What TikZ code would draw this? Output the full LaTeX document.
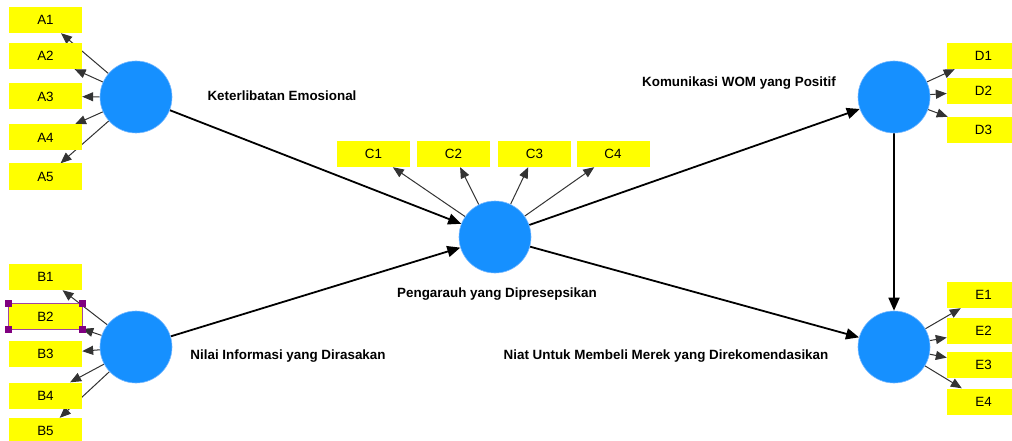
\documentclass[tikz,border=0pt]{standalone}
\usepackage{fontspec}
\setmainfont{Liberation Sans}
\usetikzlibrary{arrows.meta,backgrounds}
\definecolor{lvblue}{RGB}{22,144,255}
\definecolor{lvrim}{RGB}{120,185,255}
\definecolor{indyellow}{RGB}{255,255,0}
\definecolor{selpurple}{RGB}{160,70,160}
\definecolor{handlepurple}{RGB}{128,0,128}
\begin{document}
\begin{tikzpicture}[x=1pt,y=-1pt,
  lv/.style={circle,fill=lvblue,draw=lvrim,line width=0.6pt,minimum size=72pt,inner sep=0pt},
  ind/.style={fill=indyellow,minimum width=73pt,minimum height=26pt,inner sep=0pt,font=\fontsize{13.4}{15}\selectfont},
  lbl/.style={font=\fontsize{13.4}{15}\selectfont\bfseries,inner sep=0pt},
  struct/.style={draw=black,line width=1.8pt,-{Triangle[length=13pt,width=11pt]}},
  meas/.style={draw=black!80,line width=1pt,-{Triangle[length=11pt,width=9pt]}},
  handle/.style={fill=handlepurple,minimum size=7pt,inner sep=0pt}
]
\useasboundingbox (0,0) rectangle (1012,441);
% latent variables
\node[lv] (LA) at (136,97) {};
\node[lv] (LB) at (136,347) {};
\node[lv] (LC) at (495,237) {};
\node[lv] (LD) at (894,97) {};
\node[lv] (LE) at (894,347) {};
% indicators
\node[ind] (A1) at (45.5,20) {A1};
\node[ind] (A2) at (45.5,56) {A2};
\node[ind] (A3) at (45.5,96.5) {A3};
\node[ind] (A4) at (45.5,137.5) {A4};
\node[ind] (A5) at (45.5,176.5) {A5};
\node[ind] (B1) at (45.5,277) {B1};
\node[ind] (B2) at (45.5,316.5) {B2};
\node[ind] (B3) at (45.5,354) {B3};
\node[ind] (B4) at (45.5,395.5) {B4};
\node[ind] (B5) at (45.5,431) {B5};
\node[ind] (C1) at (373.5,154) {C1};
\node[ind] (C2) at (453.5,154) {C2};
\node[ind] (C3) at (534.5,154) {C3};
\node[ind] (C4) at (613,154) {C4};
\node[ind] (D1) at (983.5,56) {D1};
\node[ind] (D2) at (983.5,91) {D2};
\node[ind] (D3) at (983.5,130) {D3};
\node[ind] (E1) at (983.5,295) {E1};
\node[ind] (E2) at (983.5,331) {E2};
\node[ind] (E3) at (983.5,365) {E3};
\node[ind] (E4) at (983.5,401.5) {E4};
% selection marks on B2
\draw[selpurple,line width=1pt] (B2.south west) rectangle (B2.north east);
\node[handle] (h1) at (B2.north west) {};
\node[handle] (h2) at (B2.north east) {};
\node[handle] (h3) at (B2.south west) {};
\node[handle] (h4) at (B2.south east) {};
% labels
\node[lbl] (tA) at (282,96) {Keterlibatan Emosional};
\node[lbl] (tB) at (288,356) {Nilai Informasi yang Dirasakan};
\node[lbl] (tC) at (497,294) {Pengarauh yang Dipresepsikan};
\node[lbl] (tD) at (739,83) {Komunikasi WOM yang Positif};
\node[lbl] (tE) at (666,356) {Niat Untuk Membeli Merek yang Direkomendasikan};
% connectors
\begin{pgfonlayer}{background}
\foreach \i in {A1,A2,A3,A4,A5} \draw[meas] (LA) -- (\i);
\foreach \i in {B1,B2,B3,B4,B5} \draw[meas] (LB) -- (\i);
\foreach \i in {C1,C2,C3,C4} \draw[meas] (LC) -- (\i);
\foreach \i in {D1,D2,D3} \draw[meas] (LD) -- (\i);
\foreach \i in {E1,E2,E3,E4} \draw[meas] (LE) -- (\i);
\draw[struct] (LA) -- (LC);
\draw[struct] (LB) -- (LC);
\draw[struct] (LC) -- (LD);
\draw[struct] (LC) -- (LE);
\draw[struct] (LD) -- (LE);
\end{pgfonlayer}
\end{tikzpicture}
\end{document}
